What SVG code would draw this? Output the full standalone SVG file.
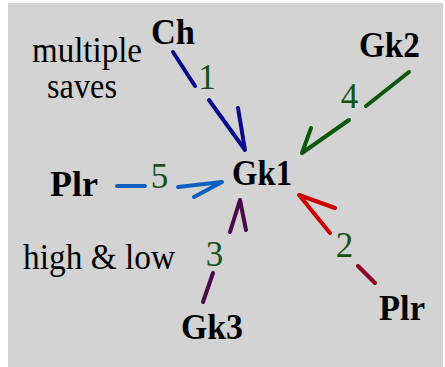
<svg xmlns="http://www.w3.org/2000/svg" width="445" height="367" viewBox="0 0 445 367">
  <style>
    .lbl { font-family: "Liberation Serif", "Times New Roman", serif; font-size: 36px; font-weight: bold; fill: #000; }
    .note { font-family: "Liberation Serif", "Times New Roman", serif; font-size: 35px; fill: #000; }
    .num { font-family: "Liberation Serif", "Times New Roman", serif; font-size: 35px; fill: #145214; text-anchor: middle; }
    .ln { fill: none; stroke-width: 4; stroke-linecap: round; stroke-linejoin: round; }
  </style>
  <rect x="0" y="0" width="445" height="367" fill="#ffffff"/>
  <rect x="8" y="3" width="435" height="364" fill="#d3d3d3"/>

  <!-- side notes -->
  <text class="note" x="32" y="62" textLength="110" lengthAdjust="spacingAndGlyphs">multiple</text>
  <text class="note" x="47" y="98" textLength="70" lengthAdjust="spacingAndGlyphs">saves</text>
  <text class="note" x="23" y="269" textLength="152" lengthAdjust="spacingAndGlyphs">high &amp; low</text>

  <!-- nodes -->
  <g id="ch"><text class="lbl" x="151" y="44" textLength="44" lengthAdjust="spacingAndGlyphs">Ch</text></g>
  <g id="gk2"><text class="lbl" x="359" y="57" textLength="61" lengthAdjust="spacingAndGlyphs">Gk2</text></g>
  <g id="plr-left"><text class="lbl" x="50" y="196" textLength="48" lengthAdjust="spacingAndGlyphs">Plr</text></g>
  <g id="gk1"><text class="lbl" x="232" y="185" textLength="60" lengthAdjust="spacingAndGlyphs">Gk1</text></g>
  <g id="gk3"><text class="lbl" x="181" y="339" textLength="62" lengthAdjust="spacingAndGlyphs">Gk3</text></g>
  <g id="plr-right"><text class="lbl" x="379" y="320" textLength="46" lengthAdjust="spacingAndGlyphs">Plr</text></g>

  <!-- connectors -->
  <g id="connectors">
    <!-- 1: Ch to Gk1 -->
    <g stroke="#0a0a8c" class="ln">
      <line x1="173" y1="52" x2="195" y2="86"/>
      <polyline points="209,100 245,150 238,108"/>
    </g>
    <text class="num" x="207" y="89">1</text>

    <!-- 4: Gk2 to Gk1 -->
    <g stroke="#0b5a0b" class="ln">
      <line x1="409" y1="72" x2="366" y2="106"/>
      <polyline points="349,120 302,153 311,128"/>
    </g>
    <text class="num" x="349.5" y="108">4</text>

    <!-- 5: Plr to Gk1 -->
    <g stroke="#1060c0" class="ln">
      <line x1="117" y1="186" x2="145" y2="186"/>
      <polyline points="178,187 222,182 194,197"/>
    </g>
    <text class="num" x="159.5" y="188">5</text>

    <!-- 3: Gk3 to Gk1 -->
    <g stroke="#4a0a4a" class="ln">
      <line x1="203" y1="302" x2="213" y2="273"/>
      <polyline points="230,232 240,200 246,230"/>
    </g>
    <text class="num" x="214.5" y="266">3</text>

    <!-- 2: Plr to Gk1 -->
    <g class="ln">
      <line x1="375" y1="283" x2="358" y2="266" stroke="#8b0022"/>
      <polyline points="330,233 299,195 335,208" stroke="#cc0000"/>
    </g>
    <text class="num" x="344.5" y="257">2</text>
  </g>
</svg>
